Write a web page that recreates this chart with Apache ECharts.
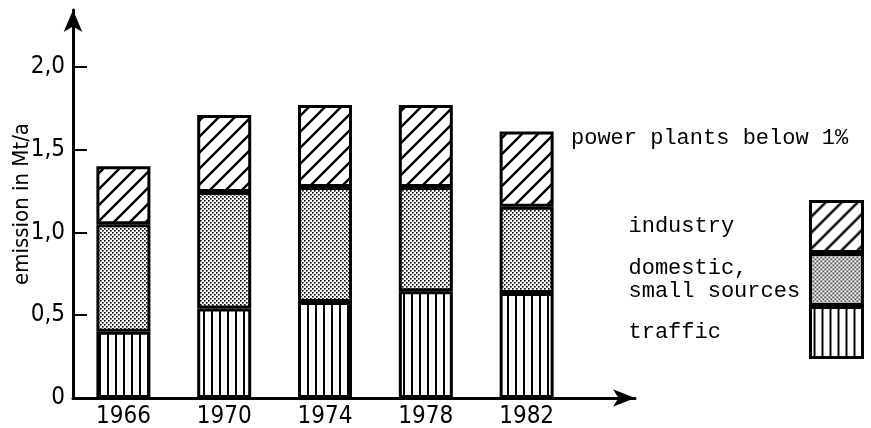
<!DOCTYPE html>
<html>
<head>
<meta charset="utf-8">
<script src="https://cdn.jsdelivr.net/npm/echarts@6/dist/echarts.min.js"></script>
<style>
  html, body { margin: 0; padding: 0; background: #fff; }
  #chart { width: 871px; height: 428px; }
</style>
</head>
<body>
<div id="chart"></div>
<script>
// data (Mt/a, stacked segments)
const years = [1966, 1970, 1974, 1978, 1982];
const traffic = [0.40, 0.54, 0.58, 0.645, 0.635];
const domestic = [0.65, 0.705, 0.695, 0.63, 0.52];
const industry = [0.35, 0.465, 0.495, 0.495, 0.455];
const yTicks = [0, 0.5, 1.0, 1.5, 2.0];

const FONT_AXIS = '"DejaVu Sans Condensed", "DejaVu Sans", sans-serif';
const FONT_MONO = '"Liberation Mono", monospace';

// hatch patterns
function makeTile(w, h, draw) {
  const c = document.createElement('canvas');
  c.width = w;
  c.height = h;
  const ctx = c.getContext('2d');
  ctx.fillStyle = '#fff';
  ctx.fillRect(0, 0, w, h);
  ctx.fillStyle = '#000';
  ctx.strokeStyle = '#000';
  draw(ctx);
  return { image: c, repeat: 'repeat' };
}

const vLines = makeTile(8, 8, ctx => {
  ctx.fillRect(3, 0, 2, 8);
});
const dots = makeTile(4, 4, ctx => {
  ctx.fillRect(0, 0, 1.6, 1.6);
  ctx.fillRect(2, 2, 1.6, 1.6);
});
const diag = makeTile(16, 16, ctx => {
  ctx.lineWidth = 2.4;
  ctx.beginPath();
  ctx.moveTo(-4, 20); ctx.lineTo(20, -4);
  ctx.moveTo(-20, 20); ctx.lineTo(4, -4);
  ctx.moveTo(12, 20); ctx.lineTo(36, -4);
  ctx.stroke();
});

// value first, year second, so the stack runs along y
function pairs(vals) {
  return years.map((y, i) => [vals[i], y]);
}

function barSeries(name, vals, fill) {
  return {
    name: name,
    type: 'bar',
    stack: 'total',
    barWidth: 54,
    encode: { x: 1, y: 0 },
    data: pairs(vals),
    itemStyle: { color: fill, borderColor: '#000', borderWidth: 3 },
    emphasis: { disabled: true }
  };
}

const chart = echarts.init(document.getElementById('chart'), null, { renderer: 'canvas' });

chart.setOption({
  animation: false,
  backgroundColor: '#fff',
  title: {
    text: 'power plants below 1%',
    left: 566,
    top: 122,
    textStyle: { fontFamily: FONT_MONO, fontSize: 22, fontWeight: 'normal', color: '#000' }
  },
  legend: {
    orient: 'vertical',
    right: 2,
    top: 195,
    align: 'right',
    icon: 'rect',
    itemWidth: 52,
    itemHeight: 50,
    itemGap: 0,
    selectedMode: false,
    data: ['industry', 'domestic,\nsmall sources', 'traffic'],
    itemStyle: { borderColor: '#000', borderWidth: 3 },
    formatter: function (name) {
      return name.split('\n').map(s => '{t|' + s + '}').join('\n');
    },
    textStyle: {
      fontFamily: FONT_MONO,
      fontSize: 22,
      color: '#000',
      rich: {
        t: { width: 177, align: 'left', fontFamily: FONT_MONO, fontSize: 22, lineHeight: 23, color: '#000' }
      }
    }
  },
  grid: { left: 73, right: 236, top: 10, bottom: 30, outerBoundsMode: 'none', containLabel: false },
  xAxis: {
    type: 'value',
    min: 1964,
    max: 1986.3,
    splitLine: { show: false },
    axisLine: {
      onZero: false,
      lineStyle: { color: '#000', width: 3 },
      symbol: ['none', 'arrow'],
      symbolSize: [13, 22]
    },
    axisTick: { show: false },
    axisLabel: {
      customValues: years,
      margin: 7,
      color: '#000',
      fontFamily: FONT_AXIS,
      fontSize: 24,
      formatter: v => String(v)
    }
  },
  yAxis: {
    type: 'value',
    min: 0,
    max: 2.344,
    name: 'emission in Mt/a',
    nameLocation: 'middle',
    nameRotate: 90,
    nameGap: 40,
    nameMoveOverlap: false,
    nameTextStyle: { fontFamily: FONT_AXIS, fontSize: 22, color: '#000' },
    splitLine: { show: false },
    axisLine: {
      onZero: false,
      lineStyle: { color: '#000', width: 3 },
      symbol: ['none', 'arrow'],
      symbolSize: [14, 22]
    },
    axisTick: {
      customValues: yTicks.slice(1),
      inside: true,
      length: 14,
      lineStyle: { color: '#000', width: 2 }
    },
    axisLabel: {
      customValues: yTicks,
      margin: 8,
      color: '#000',
      fontFamily: FONT_AXIS,
      fontSize: 24,
      formatter: v => v === 0 ? '0' : v.toFixed(1).replace('.', ',')
    }
  },
  series: [
    barSeries('traffic', traffic, vLines),
    barSeries('domestic,\nsmall sources', domestic, dots),
    barSeries('industry', industry, diag)
  ]
});
</script>
</body>
</html>
